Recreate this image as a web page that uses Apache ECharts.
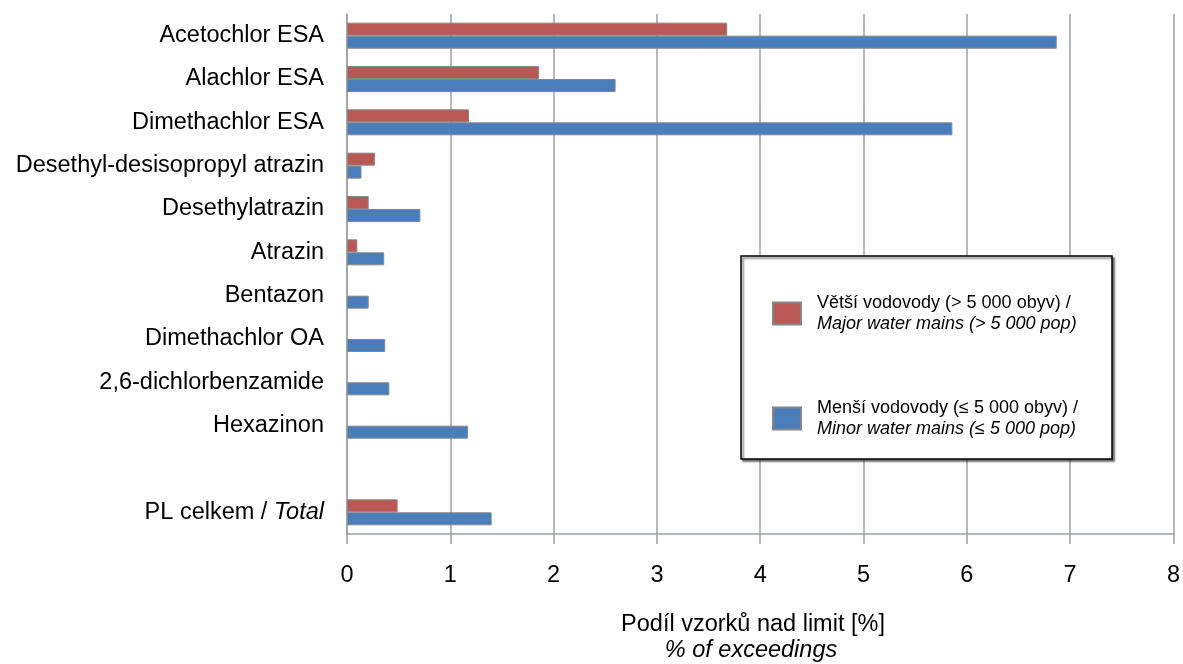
<!DOCTYPE html>
<html lang="cs">
<head>
    <meta charset="UTF-8">
    <title>Podíl vzorků nad limit</title>
    <script src="https://cdn.jsdelivr.net/npm/echarts@6/dist/echarts.min.js"></script>
    <style type="text/css">
        *{
            margin: 0;
            padding: 0;
        }
        #chart{
            width: 1183px;
            height: 664px;
            background: #fff;
        }
    </style>
</head>
<body>
    <div id="chart"></div>
</body>
<script>
    // kategorie (shora dolu), prazdny radek pred souctem
    var categories = ['Acetochlor ESA', 'Alachlor ESA', 'Dimethachlor ESA', 'Desethyl-desisopropyl atrazin',
        'Desethylatrazin', 'Atrazin', 'Bentazon', 'Dimethachlor OA', '2,6-dichlorbenzamide', 'Hexazinon',
        '', 'PL celkem / Total'];
    // vetsi vodovody (> 5 000 obyv)
    var majorMains = [3.68, 1.86, 1.18, 0.27, 0.21, 0.10, null, null, null, null, null, 0.49];
    // mensi vodovody (<= 5 000 obyv)
    var minorMains = [6.87, 2.60, 5.86, 0.14, 0.71, 0.36, 0.21, 0.37, 0.41, 1.17, null, 1.40];
    var xTicks = [0, 1, 2, 3, 4, 5, 6, 7, 8];

    var legendNames = ['{a|Větší vodovody (> 5 000 obyv) /}\n{b|Major water mains (> 5 000 pop)}',
        '{a|Menší vodovody (≤ 5 000 obyv) /}\n{b|Minor water mains (≤ 5 000 pop)}'];

    var font = "'Liberation Sans', Arial, sans-serif";
    var gridColor = '#9ca1a6';

    var myChart = echarts.init(document.getElementById('chart'));
    var option = {
        animation: false,
        textStyle: {fontFamily: font},
        grid: {left: 347, right: 7, top: 14, bottom: 130, containLabel: false},
        xAxis: {
            type: 'value',
            min: xTicks[0],
            max: xTicks[xTicks.length - 1],
            interval: 1,
            axisLine: {show: true, lineStyle: {color: gridColor, width: 1.5}},
            axisTick: {show: true, length: 10, lineStyle: {color: gridColor, width: 1.5}},
            splitLine: {show: true, lineStyle: {color: gridColor, width: 1.5}},
            axisLabel: {color: '#000', fontSize: 23.5, margin: 30, fontFamily: font}
        },
        yAxis: {
            type: 'category',
            inverse: true,
            data: categories,
            axisLine: {show: true, lineStyle: {color: gridColor, width: 1.5}},
            axisTick: {show: false},
            axisLabel: {
                color: '#000',
                fontSize: 23.5,
                margin: 23,
                fontFamily: font,
                formatter: function (v) {
                    if (v.indexOf(' / ') > 0) {
                        var p = v.split(' / ');
                        return '{n|' + p[0] + ' / }{i|' + p[1] + '}';
                    }
                    return v;
                },
                rich: {
                    n: {fontSize: 23.5, color: '#000', fontFamily: font},
                    i: {fontSize: 23.5, color: '#000', fontStyle: 'italic', fontFamily: font}
                }
            }
        },
        legend: {
            orient: 'vertical',
            left: 767,
            top: 289,
            z: 6,
            icon: 'rect',
            itemWidth: 28,
            itemHeight: 22,
            itemGap: 66,
            data: legendNames,
            textStyle: {
                padding: [0, 0, 0, 11],
                rich: {
                    a: {fontSize: 18, lineHeight: 21, color: '#000', fontFamily: font},
                    b: {fontSize: 18, lineHeight: 21, color: '#000', fontStyle: 'italic', fontFamily: font}
                }
            }
        },
        graphic: [
            {
                type: 'rect',
                z: 5,
                shape: {x: 741, y: 256, width: 371, height: 203},
                style: {
                    fill: '#fff',
                    stroke: '#000',
                    lineWidth: 1.5,
                    shadowBlur: 2,
                    shadowOffsetX: 2,
                    shadowOffsetY: 2,
                    shadowColor: 'rgba(0,0,0,0.55)'
                }
            },
            {
                type: 'text',
                x: 753,
                y: 625,
                style: {
                    text: 'Podíl vzorků nad limit [%]',
                    font: '23.5px ' + font,
                    fill: '#000',
                    align: 'center',
                    verticalAlign: 'middle'
                }
            },
            {
                type: 'text',
                x: 751,
                y: 650,
                style: {
                    text: '% of exceedings',
                    font: 'italic 23.5px ' + font,
                    fill: '#000',
                    align: 'center',
                    verticalAlign: 'middle'
                }
            }
        ],
        series: [
            {
                name: legendNames[0],
                type: 'bar',
                barWidth: 13,
                barGap: '0%',
                data: majorMains,
                itemStyle: {color: '#BA5856', borderColor: '#868686', borderWidth: 1}
            },
            {
                name: legendNames[1],
                type: 'bar',
                barWidth: 13,
                barGap: '0%',
                data: minorMains,
                itemStyle: {color: '#4A7EBB', borderColor: '#868686', borderWidth: 1}
            }
        ]
    };
    myChart.setOption(option);
</script>
</html>
